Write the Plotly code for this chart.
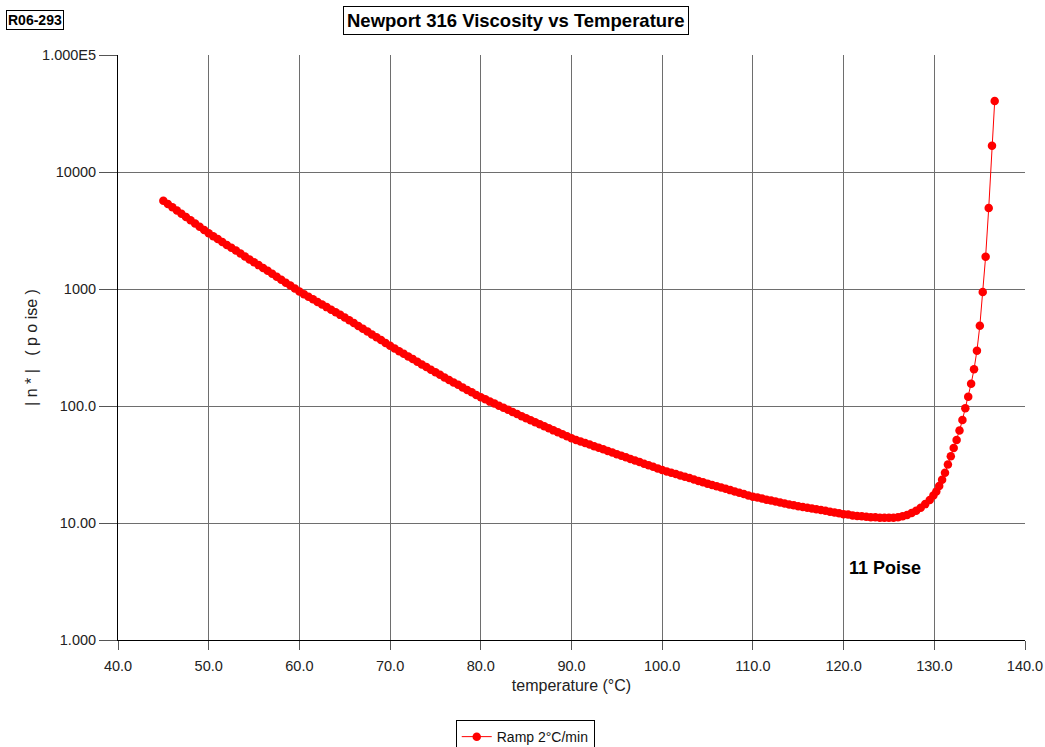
import plotly.graph_objects as go

# Temperature (°C) and complex viscosity |n*| (poise)
temperature = [
    45.0, 45.5, 46.0, 46.5, 47.0, 47.5, 48.0, 48.5, 49.0, 49.5,
    50.0, 50.5, 51.0, 51.5, 52.0, 52.5, 53.0, 53.5, 54.0, 54.5,
    55.0, 55.5, 56.0, 56.5, 57.0, 57.5, 58.0, 58.5, 59.0, 59.5,
    60.0, 60.5, 61.0, 61.5, 62.0, 62.5, 63.0, 63.5, 64.0, 64.5,
    65.0, 65.5, 66.0, 66.5, 67.0, 67.5, 68.0, 68.5, 69.0, 69.5,
    70.0, 70.5, 71.0, 71.5, 72.0, 72.5, 73.0, 73.5, 74.0, 74.5,
    75.0, 75.5, 76.0, 76.5, 77.0, 77.5, 78.0, 78.5, 79.0, 79.5,
    80.0, 80.5, 81.0, 81.5, 82.0, 82.5, 83.0, 83.5, 84.0, 84.5,
    85.0, 85.5, 86.0, 86.5, 87.0, 87.5, 88.0, 88.5, 89.0, 89.5,
    90.0, 90.5, 91.0, 91.5, 92.0, 92.5, 93.0, 93.5, 94.0, 94.5,
    95.0, 95.5, 96.0, 96.5, 97.0, 97.5, 98.0, 98.5, 99.0, 99.5,
    100.0, 100.5, 101.0, 101.5, 102.0, 102.5, 103.0, 103.5, 104.0, 104.5,
    105.0, 105.5, 106.0, 106.5, 107.0, 107.5, 108.0, 108.5, 109.0, 109.5,
    110.0, 110.5, 111.0, 111.5, 112.0, 112.5, 113.0, 113.5, 114.0, 114.5,
    115.0, 115.5, 116.0, 116.5, 117.0, 117.5, 118.0, 118.5, 119.0, 119.5,
    120.0, 120.5, 121.0, 121.5, 122.0, 122.5, 123.0, 123.5, 124.0, 124.5,
    125.0, 125.5, 126.0, 126.5, 127.0, 127.5, 128.0, 128.5, 129.0, 129.5,
    129.9, 130.22, 130.54, 130.86, 131.18, 131.5, 131.82, 132.14, 132.46, 132.78,
    133.1, 133.42, 133.74, 134.06, 134.38, 134.7, 135.02, 135.34, 135.66, 136.0,
    136.36, 136.66,
]

viscosity = [
    5690, 5330, 5000, 4690, 4400, 4130, 3870, 3630, 3400, 3190,
    2990, 2830, 2670, 2520, 2380, 2250, 2130, 2010, 1900, 1790,
    1690, 1600, 1510, 1430, 1350, 1270, 1200, 1130, 1070, 1010,
    951, 904, 859, 817, 776, 738, 700, 665, 632, 601,
    571, 541, 512, 483, 457, 433, 409, 387, 366, 346,
    327, 310, 294, 280, 265, 252, 239, 226, 215, 204,
    194, 185, 175, 167, 159, 152, 144, 137, 131, 124,
    119, 114, 109, 105, 100.5, 96.5, 92.7, 88.9, 85.3, 81.8,
    78.5, 75.5, 72.6, 69.8, 67.1, 64.5, 61.9, 59.6, 57.3, 55.1,
    53.0, 51.3, 49.8, 48.2, 46.8, 45.3, 43.9, 42.6, 41.2, 40.0,
    38.7, 37.6, 36.4, 35.3, 34.2, 33.2, 32.1, 31.2, 30.2, 29.3,
    28.4, 27.6, 26.9, 26.2, 25.5, 24.8, 24.2, 23.5, 22.9, 22.3,
    21.7, 21.1, 20.6, 20.1, 19.6, 19.1, 18.6, 18.1, 17.7, 17.2,
    16.8, 16.5, 16.2, 15.8, 15.6, 15.3, 15.0, 14.7, 14.4, 14.2,
    13.9, 13.7, 13.5, 13.3, 13.1, 12.9, 12.7, 12.5, 12.3, 12.1,
    11.9, 11.8, 11.6, 11.5, 11.4, 11.3, 11.2, 11.2, 11.1, 11.1,
    11.1, 11.1, 11.2, 11.4, 11.7, 12.2, 12.7, 13.5, 14.5, 15.7,
    17.2, 18.6, 20.7, 23.4, 26.9, 31.6, 37.2, 43.7, 51.3, 61.7,
    75.9, 95.5, 120, 155, 206, 297, 485, 942, 1890, 4920,
    16800, 40500,
]

x_ticks = [40, 50, 60, 70, 80, 90, 100, 110, 120, 130, 140]
x_tick_labels = ["40.0", "50.0", "60.0", "70.0", "80.0", "90.0", "100.0",
                 "110.0", "120.0", "130.0", "140.0"]
y_ticks = [1, 10, 100, 1000, 10000, 100000]
y_tick_labels = ["1.000", "10.00", "100.0", "1000", "10000", "1.000E5"]

FONT = "Liberation Sans, Arial, sans-serif"

fig = go.Figure()
fig.add_trace(go.Scatter(
    x=temperature, y=viscosity, mode="lines+markers",
    name="Ramp 2°C/min",
    line=dict(color="#ff0000", width=1),
    marker=dict(color="#ff0000", size=8.5, line=dict(width=0)),
))

fig.update_layout(
    width=1045, height=747,
    margin=dict(l=118, r=20, t=55, b=107, autoexpand=False),
    paper_bgcolor="white", plot_bgcolor="white",
    font=dict(family=FONT, size=14.5, color="#222222"),
    showlegend=True,
    legend=dict(
        orientation="h", x=0.449, xanchor="center",
        yref="container", y=0.0361, yanchor="top",
        bordercolor="black", borderwidth=1, bgcolor="white",
        font=dict(family=FONT, size=14, color="#111111"),
        itemwidth=30,
    ),
    xaxis=dict(
        range=[40, 140], tickvals=x_ticks, ticktext=x_tick_labels,
        showgrid=True, gridcolor="#6e6e6e", gridwidth=1,
        showline=True, linecolor="black", linewidth=1,
        ticks="outside", ticklen=9, tickcolor="#555555",
        ticklabelstandoff=4,
        zeroline=False, automargin=False,
        title=dict(text="temperature (°C)", font=dict(size=16), standoff=6),
    ),
    yaxis=dict(
        type="log", range=[0, 5], tickvals=y_ticks, ticktext=y_tick_labels,
        showgrid=True, gridcolor="#6e6e6e", gridwidth=1,
        showline=True, linecolor="black", linewidth=1,
        ticks="outside", ticklen=18, tickcolor="#555555",
        zeroline=False, automargin=False,
        title=dict(text="| n * |   ( p o ise )", font=dict(size=16), standoff=0),
    ),
    annotations=[
        dict(text="<b>Newport 316 Viscosity vs Temperature</b>",
             xref="paper", yref="paper", x=0.439, y=1.0,
             xanchor="center", yanchor="bottom", yshift=20, showarrow=False,
             font=dict(family=FONT, size=18.5, color="black"),
             bordercolor="black", borderwidth=1, borderpad=3, bgcolor="white"),
        dict(text="<b>R06-293</b>",
             xref="paper", yref="paper", x=-0.1235, y=1.0,
             xanchor="left", yanchor="bottom", yshift=25, showarrow=False,
             font=dict(family=FONT, size=14, color="black"),
             bordercolor="black", borderwidth=1, borderpad=1, bgcolor="white"),
        dict(text="<b>11 Poise</b>",
             xref="x", yref="paper", x=124.6, y=0.123,
             xanchor="center", yanchor="middle", showarrow=False,
             font=dict(family=FONT, size=18, color="black")),
    ],
)

# Remove the browser's default 8 px page margin so the figure sits at (0, 0).
fig.write_html(
    "out.html",
    config={"displayModeBar": False},
    post_script="document.body.style.margin='0px';document.body.style.overflow='hidden';",
)
